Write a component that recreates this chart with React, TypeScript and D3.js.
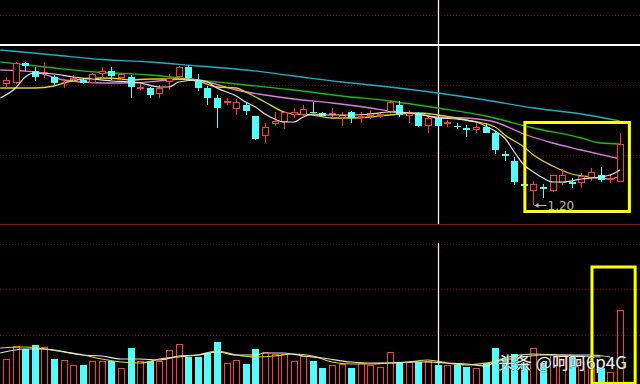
import React from "react";
import * as d3 from "d3";

// ---- candle data (price) ----
const opens = [1.442,1.444,1.484,1.468,1.462,1.456,1.441,1.450,1.450,1.444, 1.462,1.468,1.454,1.456,1.433,1.434,1.422,1.446,1.456,1.476, 1.448,1.434,1.414,1.404,1.392,1.400,1.378,1.338,1.362,1.366, 1.380,1.380,1.386,1.384,1.380,1.374,1.386,1.374,1.378,1.379, 1.386,1.400,1.378,1.384,1.358,1.374,1.362,1.359,1.354,1.351, 1.356,1.344,1.302,1.288,1.241,1.228,1.236,1.228,1.244,1.246, 1.244,1.254,1.260,1.251,1.246];
const closes = [1.450,1.484,1.478,1.456,1.466,1.444,1.444,1.454,1.444,1.462, 1.468,1.458,1.462,1.436,1.436,1.420,1.434,1.454,1.476,1.454, 1.434,1.414,1.394,1.408,1.406,1.388,1.332,1.356,1.368,1.386, 1.386,1.392,1.384,1.378,1.384,1.380,1.374,1.378,1.384,1.382, 1.406,1.380,1.384,1.358,1.374,1.358,1.366,1.357,1.351,1.356, 1.344,1.310,1.299,1.246,1.238,1.242,1.232,1.260,1.260,1.242, 1.258,1.266,1.250,1.254,1.322];
const highs = [1.456,1.486,1.486,1.476,1.486,1.460,1.452,1.460,1.454,1.464, 1.476,1.476,1.464,1.460,1.444,1.436,1.440,1.462,1.478,1.480, 1.462,1.438,1.420,1.414,1.412,1.406,1.378,1.364,1.386,1.388, 1.394,1.400,1.406,1.386,1.394,1.386,1.388,1.386,1.390,1.386, 1.410,1.408,1.390,1.386,1.380,1.378,1.370,1.364,1.360,1.364, 1.364,1.346,1.308,1.296,1.256,1.248,1.242,1.260,1.272,1.254, 1.264,1.274,1.276,1.260,1.344];
const lows = [1.434,1.442,1.468,1.448,1.454,1.440,1.434,1.448,1.442,1.442, 1.454,1.450,1.450,1.414,1.430,1.414,1.414,1.430,1.452,1.450, 1.428,1.400,1.354,1.400,1.380,1.380,1.330,1.324,1.358,1.352, 1.374,1.378,1.384,1.376,1.374,1.358,1.364,1.364,1.372,1.374, 1.384,1.376,1.364,1.356,1.344,1.356,1.356,1.352,1.336,1.344, 1.344,1.302,1.288,1.240,1.234,1.200,1.214,1.226,1.240,1.234, 1.234,1.248,1.246,1.244,1.246];

// ---- volume ----
const volumes = [25,38,35,39,37,25,24,19,19,23, 23,23,16,36,23,23,23,34,40,27, 27,31,42,21,24,20,35,32,30,30, 23,28,23,16,19,20,16,21,19,17, 32,22,22,22,23,19,19,19,17,16, 21,36,26,30,21,36,21,30,29,27, 22,17,16,12,74];

// ---- moving averages [index, value] ----
const ma5: [number, number][] = [[-0.6,1.414],[1,1.434],[2,1.456],[3,1.464],[5,1.462],[7,1.456],[9,1.452],[11,1.448],[13,1.446],[14,1.444],[16,1.436],[17,1.436],[18,1.446],[20,1.450],[21,1.446],[22,1.434],[24,1.418],[25,1.406],[26,1.396],[27,1.382],[28,1.372],[29,1.366],[30,1.366],[31,1.376],[32,1.382],[34,1.380],[36,1.380],[38,1.382],[40,1.386],[42,1.384],[43,1.382],[45,1.374],[47,1.372],[49,1.366],[50,1.358],[51,1.348],[52,1.334],[53,1.306],[54,1.280],[55,1.266],[56,1.254],[57,1.246],[58,1.246],[60,1.252],[62,1.256],[63,1.260],[64,1.270]];
const ma10: [number, number][] = [[-0.6,1.434],[3,1.434],[5,1.438],[6,1.444],[8,1.452],[10,1.454],[12,1.452],[13,1.450],[15,1.452],[18,1.452],[20,1.448],[22,1.436],[24,1.434],[25,1.426],[27,1.406],[29,1.386],[30,1.382],[32,1.380],[34,1.374],[36,1.374],[38,1.376],[40,1.380],[43,1.384],[45,1.380],[48,1.370],[51,1.356],[52,1.340],[54,1.316],[55,1.300],[57,1.278],[59,1.262],[61,1.256],[63,1.252],[64,1.258]];
const ma20: [number, number][] = [[-0.6,1.470],[3,1.466],[6,1.450],[10,1.444],[13,1.444],[17,1.450],[19,1.452],[21,1.446],[24,1.430],[27,1.420],[30,1.412],[34,1.404],[38,1.394],[40,1.388],[43,1.382],[45,1.376],[48,1.374],[51,1.366],[54,1.342],[57,1.324],[60,1.310],[64,1.292]];
const ma30: [number, number][] = [[-0.6,1.486],[5,1.474],[10,1.465],[15,1.460],[20,1.450],[25,1.440],[30,1.430],[35,1.418],[40,1.408],[45,1.394],[50,1.378],[55,1.354],[60,1.334],[62,1.324],[64,1.322]];
const ma60: [number, number][] = [[-0.6,1.510],[5,1.500],[10,1.491],[15,1.486],[20,1.478],[25,1.470],[30,1.458],[35,1.446],[40,1.436],[45,1.424],[50,1.410],[55,1.394],[60,1.382],[64,1.368]];

const volMa5: [number, number][] = [[-0.6,31],[2,35],[4,35],[5,34],[8,29],[10,28],[12,25],[14,25],[16,24],[18,28],[20,29],[22,32],[24,29],[26,29],[27,31],[29,31],[31,28],[33,26],[36,22],[38,21],[40,21],[42,22],[44,22],[46,21],[48,20],[50,18],[51,22],[52,26],[55,30],[58,29],[61,29],[63,27]];
const volMa10: [number, number][] = [[-0.6,36],[2,37],[4,35],[6,32],[8,29],[10,25],[12,22],[14,21],[16,25],[18,27],[20,29],[22,33],[24,29],[26,27],[28,28],[30,30],[32,28],[34,22],[36,20],[38,20],[40,21],[42,22],[44,24],[46,21],[48,19],[50,21],[52,24],[54,27],[56,29],[58,29],[60,28],[62,27]];

const priceTicks = [1.58, 1.44, 1.30];
const volTicks = [49, 95, 140];
const crossIndex = 45;
const crossPrice = 1.52;
const lowIndex = 55;
const lowLabel = "1.20";
const priceBox = { from: 54.1, to: 65, hi: 1.365, lo: 1.187 };
const volBox = { from: 61.1, to: 65.6, hi: 117, lo: 0.6 };
const watermark = "头条 @呵呵6p4G";

const W = 640, H = 384;
const RED = "#ff3b3b", CYAN = "#54fcfc";

export default function App() {
  const n = opens.length;
  const x = d3.scaleLinear().domain([0, n - 1]).range([6, 619.8]);
  const y = d3.scaleLinear().domain([1.162, 1.61]).range([224, 0]);
  const yv = d3.scaleLinear().domain([0, 150]).range([384, 234]);

  const pline = d3.line<[number, number]>().x(d => x(d[0])).y(d => y(d[1])).curve(d3.curveMonotoneX);
  const vline = d3.line<[number, number]>().x(d => x(d[0])).y(d => yv(d[1])).curve(d3.curveMonotoneX);

  const candles = opens.map((o, i) => {
    const c = closes[i];
    const up = c >= o;
    const cx = Math.round(x(i));
    const yTop = Math.round(y(Math.max(o, c)));
    const yBot = Math.max(yTop + 1, Math.round(y(Math.min(o, c))));
    const yH = Math.round(y(highs[i]));
    const yL = Math.round(y(lows[i]));
    if (up) {
      return (
        <g key={"c" + i}>
          {yH < yTop && <line x1={cx + 0.5} x2={cx + 0.5} y1={yH} y2={yTop} stroke={RED} />}
          {yL > yBot && <line x1={cx + 0.5} x2={cx + 0.5} y1={yBot} y2={yL} stroke={RED} />}
          <rect x={cx - 2.5} y={yTop + 0.5} width={6} height={Math.max(0, yBot - yTop - 1)} fill="#000" stroke={RED} />
        </g>
      );
    }
    return (
      <g key={"c" + i}>
        <line x1={cx + 0.5} x2={cx + 0.5} y1={yH} y2={yL} stroke={CYAN} />
        <rect x={cx - 3} y={yTop} width={7} height={yBot - yTop} fill={CYAN} />
      </g>
    );
  });

  const vbars = volumes.map((v, i) => {
    const up = closes[i] >= opens[i];
    const cx = Math.round(x(i));
    const top = Math.round(yv(v));
    if (up) return <rect key={"v" + i} x={cx - 2.5} y={top + 0.5} width={6} height={H + 4 - top} fill="none" stroke={RED} />;
    return <rect key={"v" + i} x={cx - 3} y={top} width={7} height={H + 4 - top} fill={CYAN} />;
  });

  const lowX = Math.round(x(lowIndex)) + 0.5;
  const lowY = Math.round(y(lows[lowIndex])) + 0.5;
  const crossX = Math.round(x(crossIndex)) + 0.5;

  return (
    <>
      <style>{"html,body{margin:0;padding:0;background:#000;}"}</style>
      <svg width={W} height={H} style={{ display: "block", background: "#000" }}>
        <rect width={W} height={H} fill="#000" />
        {priceTicks.map(t => (
          <line key={"pt" + t} x1={0} x2={W} y1={Math.round(y(t)) + 0.5} y2={Math.round(y(t)) + 0.5} stroke="#8a0000" strokeDasharray="1 2" />
        ))}
        {volTicks.map(t => (
          <line key={"vt" + t} x1={0} x2={W} y1={Math.round(yv(t)) + 0.5} y2={Math.round(yv(t)) + 0.5} stroke="#8a0000" strokeDasharray="1 2" />
        ))}
        <line x1={0} x2={W} y1={224.5} y2={224.5} stroke="#b00000" />

        {/* crosshair */}
        <line x1={crossX} x2={crossX} y1={0} y2={224} stroke="#f0f0f0" strokeWidth={1.3} />
        <line x1={crossX} x2={crossX} y1={243} y2={H} stroke="#f0f0f0" strokeWidth={1.3} />
        <line x1={0} x2={W} y1={y(crossPrice)} y2={y(crossPrice)} stroke="#ffffff" strokeWidth={2} />

        {/* price MAs */}
        <path d={pline(ma60) || ""} fill="none" stroke="#16b4c8" strokeWidth={1.3} />
        <path d={pline(ma30) || ""} fill="none" stroke="#14c014" strokeWidth={1.3} />
        <path d={pline(ma20) || ""} fill="none" stroke="#e07ae0" strokeWidth={1.3} />
        <path d={pline(ma10) || ""} fill="none" stroke="#dcdc10" strokeWidth={1.3} />

        {candles}
        <path d={pline(ma5) || ""} fill="none" stroke="#e4e4e4" strokeWidth={1.2} />

        {/* low label */}
        <line x1={lowX + 1} x2={lowX + 13} y1={lowY} y2={lowY} stroke="#b8b8b8" />
        <path d={`M${lowX + 1},${lowY} l4,-2.5 v5 z`} fill="#b8b8b8" />
        <text x={lowX + 14} y={lowY + 4} fill="#b8b8b8" fontSize={12} fontFamily="'DejaVu Sans', sans-serif">{lowLabel}</text>

        {/* volume */}
        {vbars}
        <path d={vline(volMa10) || ""} fill="none" stroke="#dcdc10" strokeWidth={1.2} />
        <path d={vline(volMa5) || ""} fill="none" stroke="#e4e4e4" strokeWidth={1.2} />

        {/* highlight boxes */}
        <rect x={x(priceBox.from)} y={y(priceBox.hi)} width={x(priceBox.to) - x(priceBox.from)} height={y(priceBox.lo) - y(priceBox.hi)} fill="none" stroke="#ffff00" strokeWidth={3} />
        <rect x={x(volBox.from)} y={yv(volBox.hi)} width={x(volBox.to) - x(volBox.from)} height={yv(volBox.lo) - yv(volBox.hi)} fill="none" stroke="#ffff00" strokeWidth={3} />

        {/* watermark */}
        <text x={498} y={369} fontSize={17} fontFamily="'Noto Sans CJK SC', sans-serif" fill="#f0f0f0" stroke="#333" strokeWidth={0.6} paintOrder="stroke">{watermark}</text>
      </svg>
    </>
  );
}
